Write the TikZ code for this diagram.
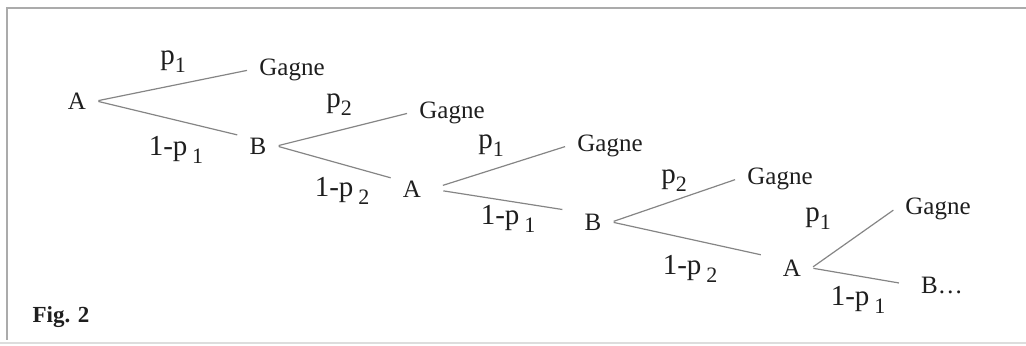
\documentclass[tikz,border=0pt]{standalone}
\usepackage{fontspec}
\setmainfont{Liberation Serif}
\usetikzlibrary{positioning}
\definecolor{clBranch}{HTML}{858585}
\definecolor{clFrame}{HTML}{ABABAB}
\definecolor{clText}{HTML}{1E1E1E}
\newcommand{\lowidx}[1]{\raisebox{-0.6ex}{\fontsize{11}{11}\selectfont #1}}
\tikzset{
  player/.style={inner xsep=5pt, inner ysep=1pt, text=clText,
                 font=\fontsize{12.5}{14}\selectfont},
  outcome/.style={player},
  prob/.style={inner sep=1pt, text=clText, font=\fontsize{14.5}{16}\selectfont},
  branch/.style={draw=clBranch, line width=0.6pt, shorten <=1pt, shorten >=1pt},
  frame/.style={draw=clFrame, line width=0.8pt},
  figlabel/.style={inner sep=1pt, text=clText, font=\fontsize{11.5}{13}\selectfont\bfseries},
}

\begin{document}
\begin{tikzpicture}[x=0.5pt, y=-0.5pt]
  \useasboundingbox (0,0) rectangle (1026,346);
  \draw[frame] (1026,8) -- (7,8) -- (7,340);
  \draw[frame, draw=clFrame!40] (0,343) -- (1026,343);

  % players and outcomes
  \node[player] (a1) at (77,101) {A};
  \node[outcome] (g1) at (292,70) {Gagne};
  \node[player] (b1) at (258,146) {B};
  \node[outcome] (g2) at (452,113) {Gagne};
  \node[player] (a2) at (412,189) {A};
  \node[outcome] (g3) at (610,146) {Gagne};
  \node[player] (b2) at (593,222) {B};
  \node[outcome] (g4) at (780,179) {Gagne};
  \node[player] (a3) at (792,268) {A};
  \node[outcome] (g5) at (938,209) {Gagne};
  \node[player] (b3) at (942,285) {B\dots};

  % branches
  \draw[branch] (a1.east) -- (g1.west);
  \draw[branch] (a1.east) -- (b1.north west);
  \draw[branch] (b1.east) -- (g2.west);
  \draw[branch] (b1.east) -- (a2.north west);
  \draw[branch, shorten <=6pt] (a2.east) -- (g3.west);
  \draw[branch, shorten <=6pt, shorten >=6pt] (a2.east) -- (b2.north west);
  \draw[branch] (b2.east) -- (g4.west);
  \draw[branch, shorten >=6pt] (b2.east) -- (a3.north west);
  \draw[branch] (a3.east) -- (g5.west);
  \draw[branch, shorten >=6pt] (a3.east) -- (b3.west);

  % probabilities
  \node[prob] (pa1) at (173,62) {p\lowidx{1}};
  \node[prob] (qa1) at (176,150) {1-p\,\lowidx{1}};
  \node[prob] (pb1) at (339,105) {p\lowidx{2}};
  \node[prob] (qb1) at (342,191) {1-p\,\lowidx{2}};
  \node[prob] (pa2) at (491,146) {p\lowidx{1}};
  \node[prob] (qa2) at (508,219) {1-p\,\lowidx{1}};
  \node[prob] (pb2) at (674,181) {p\lowidx{2}};
  \node[prob] (qb2) at (690,269) {1-p\,\lowidx{2}};
  \node[prob] (pa3) at (818,219) {p\lowidx{1}};
  \node[prob] (qa3) at (858,300) {1-p\,\lowidx{1}};

  \node[figlabel] (fig) at (61,317) {Fig. 2};
\end{tikzpicture}
\end{document}
